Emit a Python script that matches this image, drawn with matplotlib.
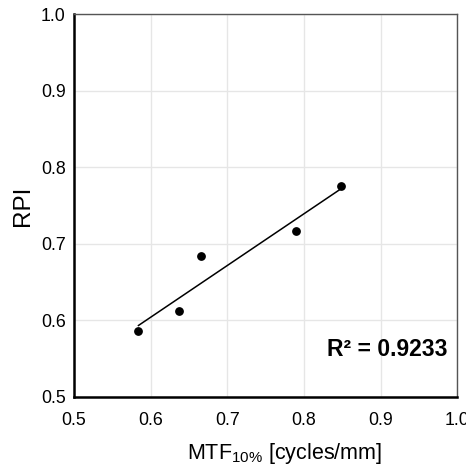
import numpy as np
import matplotlib.pyplot as plt

plt.rcParams['font.family'] = ['Liberation Sans', 'DejaVu Sans']

mtf = [0.584, 0.637, 0.666, 0.790, 0.848]
rpi = [0.586, 0.612, 0.684, 0.717, 0.776]
xticks = [0.5, 0.6, 0.7, 0.8, 0.9, 1.0]
yticks = [0.5, 0.6, 0.7, 0.8, 0.9, 1.0]

fig = plt.figure(figsize=(4.66, 4.67), dpi=100)
ax = fig.add_axes([0.159, 0.150, 0.822, 0.820])

# trend line (least squares)
k, b = np.polyfit(mtf, rpi, 1)
xs = np.array([min(mtf), max(mtf)])
ax.plot(xs, k * xs + b, color='black', lw=1.1, zorder=2)
ax.scatter(mtf, rpi, s=28, color='black', zorder=3)

ax.set_xlim(0.5, 1.0)
ax.set_ylim(0.5, 1.0)
ax.set_xticks(xticks)
ax.set_yticks(yticks)
ax.set_xticklabels(['%.1f' % v for v in xticks])
ax.set_yticklabels(['%.1f' % v for v in yticks])
ax.tick_params(length=0, labelsize=12.8)
ax.tick_params(axis='x', pad=11)
ax.tick_params(axis='y', pad=6)
ax.grid(color='#e6e6e6', lw=1)
ax.set_axisbelow(True)

for s in ['left', 'bottom']:
    ax.spines[s].set_linewidth(1.8)
    ax.spines[s].set_color('black')
for s in ['top', 'right']:
    ax.spines[s].set_linewidth(1)
    ax.spines[s].set_color('#555555')

ax.set_ylabel('RPI', fontsize=17.5)
ax.yaxis.set_label_coords(-0.105, 0.5)
ax.set_xlabel('MTF$_{\\mathregular{10\\%}}$ [cycles/mm]', fontsize=15.5)
ax.xaxis.set_label_coords(0.55, -0.115)

ax.text(0.975, 0.123, 'R² = 0.9233', transform=ax.transAxes, ha='right', va='center',
        fontsize=16.5, fontweight='bold')

fig.savefig('out.png', dpi=100)
